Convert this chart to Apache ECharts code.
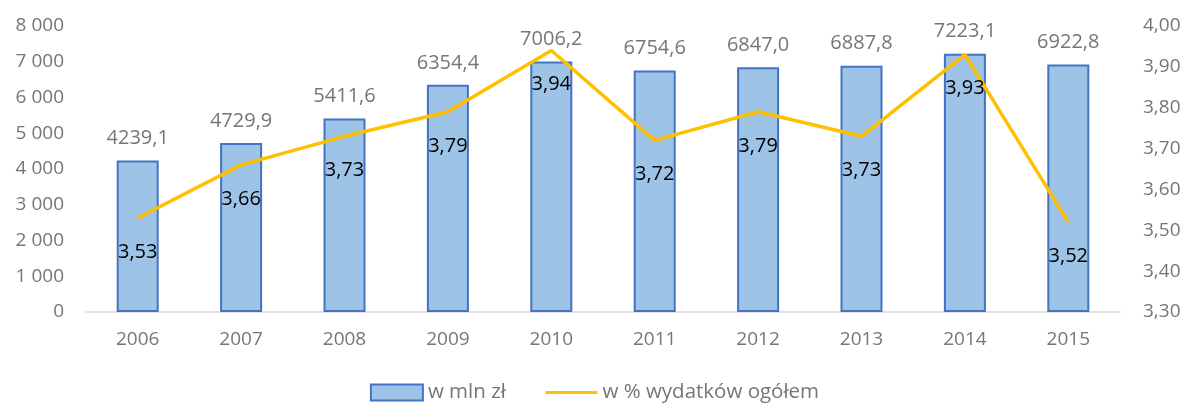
<!DOCTYPE html>
<html><head><meta charset="utf-8">
<script src="https://cdn.jsdelivr.net/npm/echarts@6/dist/echarts.min.js"></script>
<style>html,body{margin:0;padding:0;background:#fff}#c{width:1189px;height:405px}</style>
</head><body><div id="c"></div>
<script>
const categories = ['2006','2007','2008','2009','2010','2011','2012','2013','2014','2015'];
const mlnZl = [4239.1, 4729.9, 5411.6, 6354.4, 7006.2, 6754.6, 6847.0, 6887.8, 7223.1, 6922.8];
const pctWydatkow = [3.53, 3.66, 3.73, 3.79, 3.94, 3.72, 3.79, 3.73, 3.93, 3.52];
const seriesNames = ['w mln zł', 'w % wydatków ogółem'];

const FONT = 'Open Sans';
const GRAY = '#767676';
const chart = echarts.init(document.getElementById('c'));
chart.setOption({
  animation: false,
  textStyle: { fontFamily: FONT },
  grid: { left: 86, right: 69, top: 26, bottom: 93, containLabel: false },
  legend: {
    bottom: -3, left: 'center', itemGap: 38, itemWidth: 52, itemHeight: 16,
    textStyle: { color: GRAY, fontSize: 20.5, fontFamily: FONT },
    data: [
      { name: seriesNames[0], icon: 'rect' },
      { name: seriesNames[1], itemStyle: { opacity: 0 }, lineStyle: { width: 3 } }
    ]
  },
  xAxis: {
    type: 'category', data: categories,
    axisLine: { lineStyle: { color: '#D9D9D9', width: 1.5 } },
    axisTick: { show: false },
    axisLabel: { color: GRAY, fontSize: 19, margin: 18 }
  },
  yAxis: [
    {
      type: 'value', min: 0, max: 8000, interval: 1000,
      splitLine: { show: false }, axisLine: { show: false }, axisTick: { show: false },
      axisLabel: { color: GRAY, fontSize: 19, margin: 22,
        formatter: v => String(v).replace(/\B(?=(\d{3})+(?!\d))/g, ' ') }
    },
    {
      type: 'value', min: 3.3, max: 4.0, interval: 0.1,
      splitLine: { show: false }, axisLine: { show: false }, axisTick: { show: false },
      axisLabel: { color: GRAY, fontSize: 19, margin: 23,
        formatter: v => v.toFixed(2).replace('.', ',') }
    }
  ],
  series: [
    {
      name: seriesNames[0], type: 'bar', data: mlnZl, barWidth: 42, yAxisIndex: 0,
      itemStyle: { color: '#9DC3E6', borderColor: '#4472C4', borderWidth: 2 },
      label: { show: true, position: 'top', distance: 12, color: GRAY, fontSize: 20,
        formatter: p => p.value.toFixed(1).replace('.', ',') }
    },
    {
      name: seriesNames[1], type: 'line', data: pctWydatkow, yAxisIndex: 1,
      symbol: 'circle', symbolSize: 0, showSymbol: true,
      itemStyle: { color: '#FFC000' },
      lineStyle: { color: '#FFC000', width: 3.5 },
      label: { show: true, position: 'bottom', distance: 24, color: '#000', fontSize: 20,
        formatter: p => p.value.toFixed(2).replace('.', ',') },
      z: 3
    }
  ]
});
</script></body></html>
